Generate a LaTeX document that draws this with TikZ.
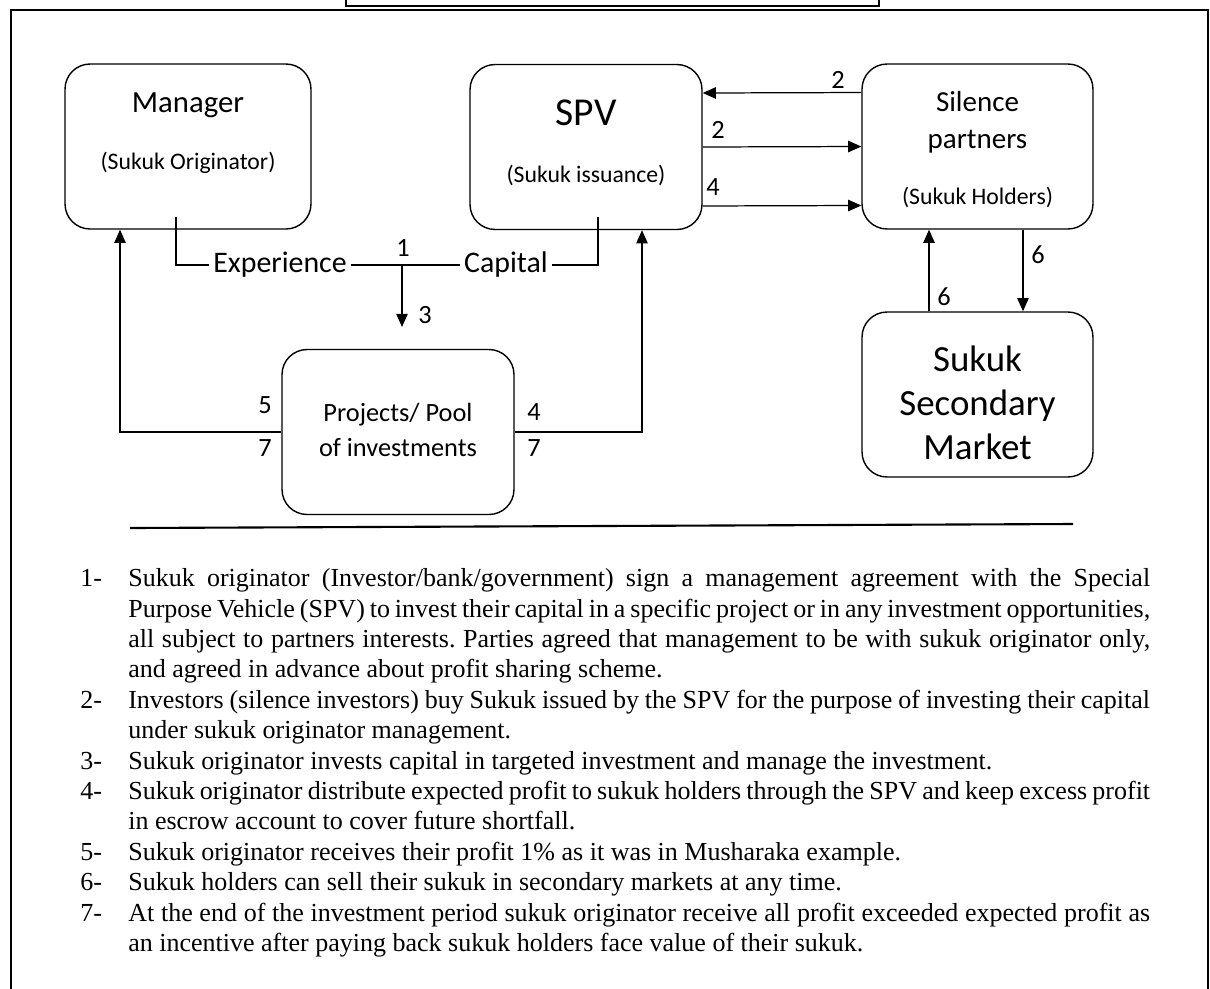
\documentclass[tikz,border=0pt]{standalone}
\usepackage{fontspec}
\setmainfont{Carlito}
\newfontfamily\listfont{Liberation Serif}
\usetikzlibrary{arrows.meta,positioning}

\tikzset{
  box/.style={rectangle,draw,rounded corners=0.5cm,line width=0.8pt,minimum width=4.64cm,minimum height=3.3cm},
  flow/.style={-{Triangle[length=7.5pt,width=6.5pt]},line width=0.7pt},
  wire/.style={line width=0.7pt},
  num/.style={font=\fontsize{15}{15}\selectfont,inner sep=0pt},
}
\newcommand{\stepitem}[2]{\par\noindent\hangindent=0.96cm\hangafter=1\makebox[0.96cm][l]{#1}#2}
\newcommand{\notesetup}{\frenchspacing\spaceskip=0.25em plus 0.5em minus 0.18em\relax\hyphenpenalty=10000\relax\tolerance=9999\relax}

\begin{document}
\begin{tikzpicture}[x=0.02cm,y=-0.02cm]
    \useasboundingbox (0,0) rectangle (1210,988);
    % frame and title box
    \draw[line width=1.6pt] (11,990) -- (11,10) -- (1208,10) -- (1208,990);
    \draw[line width=1pt] (346,-10) -- (346,6) -- (879,6) -- (879,-10);

    % boxes
    \node[box,minimum width=4.92cm] (mgr) at (188,146.5) {};
    \node[box] (spv) at (586,147) {};
    \node[box,minimum width=4.62cm] (sil) at (977.5,146.5) {};
    \node[box,minimum width=4.62cm] (mkt) at (977.5,394.5) {};
    \node[box] (pool) at (398,432) {};

    % box texts
    \node[font=\fontsize{17.5}{20}\selectfont] (mgr-t) at (188,105) {Manager};
    \node[font=\fontsize{13.5}{16}\selectfont] (mgr-s) at (188,163) {(Sukuk Originator)};
    \node[font=\fontsize{22.5}{26}\selectfont] (spv-t) at (586,113) {SPV};
    \node[font=\fontsize{13.5}{16}\selectfont] (spv-s) at (586,175) {(Sukuk issuance)};
    \node[font=\fontsize{16.5}{21}\selectfont,align=center] (sil-t) at (977.5,122) {Silence\\partners};
    \node[font=\fontsize{13.5}{16}\selectfont] (sil-s) at (977.5,197) {(Sukuk Holders)};
    \node[font=\fontsize{21}{25.2}\selectfont,align=center] (mkt-t) at (977.5,403) {Sukuk\\Secondary\\Market};
    \node[font=\fontsize{15}{19.8}\selectfont,align=center] (pool-t) at (398,430) {Projects/ Pool\\of investments};

    % agreement
    \node[font=\fontsize{17}{20}\selectfont,inner sep=2pt] (exp) at (280,265) {Experience};
    \node[font=\fontsize{17}{20}\selectfont,inner sep=2pt] (cap) at (506,265) {Capital};
    \coordinate (j1) at (402,265);
    \coordinate (j3) at (402,327);
    \draw[wire] ([xshift=-0.24cm,yshift=0.26cm]mgr.south) |- (exp.west);
    \draw[wire] (exp.east) -- (cap.west);
    \draw[wire] (cap.east) -| ([xshift=0.24cm,yshift=0.26cm]spv.south);
    \draw[flow] (j1) -- (j3);
    \node[num] (n1) at (403,248) {1};
    \node[num] (n3) at (425,315) {3};

    % profit flows
    \draw[flow] (pool.west) -| ([xshift=-1.36cm]mgr.south);
    \draw[flow] (pool.east) -| ([xshift=1.12cm]spv.south);
    \node[num] (n5) at (265,405) {5};
    \node[num] (n7a) at (265,448) {7};
    \node[num] (n4a) at (534,412) {4};
    \node[num] (n7b) at (534,448) {7};

    % sukuk flows
    \draw[flow] ([yshift=1.08cm]sil.west) -- ([yshift=1.08cm]spv.east);
    \draw[flow] (spv.east) -- (sil.west);
    \draw[flow] ([yshift=-1.18cm]spv.east) -- ([yshift=-1.18cm]sil.west);
    \node[num] (n2a) at (838,80) {2};
    \node[num] (n2b) at (718,130) {2};
    \node[num] (n4b) at (713,187) {4};

    % secondary market
    \draw[flow] ([xshift=0.91cm]sil.south) -- ([xshift=0.91cm]mkt.north);
    \draw[flow] ([xshift=-0.97cm]mkt.north) -- ([xshift=-0.97cm]sil.south);
    \node[num] (n6a) at (1038,255) {6};
    \node[num] (n6b) at (944,297) {6};

    \draw[line width=1.2pt] (130,528) -- (1073,524);

    % notes
    \node[anchor=north west,inner sep=0pt,text width=21.4cm,align=justify,font=\listfont\fontsize{14.8}{17.3}\selectfont] (notes) at (80,556) {\notesetup
      \stepitem{1-}{Sukuk originator (Investor/bank/government) sign a management agreement with the Special\linebreak
        Purpose Vehicle (SPV) to invest their capital in a specific project or in any investment opportunities,\linebreak
        all subject to partners interests. Parties agreed that management to be with sukuk originator only,\linebreak
        and agreed in advance about profit sharing scheme.}
      \stepitem{2-}{Investors (silence investors) buy Sukuk issued by the SPV for the purpose of investing their capital\linebreak
        under sukuk originator management.}
      \stepitem{3-}{Sukuk originator invests capital in targeted investment and manage the investment.}
      \stepitem{4-}{Sukuk originator distribute expected profit to sukuk holders through the SPV and keep excess profit\linebreak
        in escrow account to cover future shortfall.}
      \stepitem{5-}{Sukuk originator receives their profit 1\% as it was in Musharaka example.}
      \stepitem{6-}{Sukuk holders can sell their sukuk in secondary markets at any time.}
      \stepitem{7-}{At the end of the investment period sukuk originator receive all profit exceeded expected profit as\linebreak
        an incentive after paying back sukuk holders face value of their sukuk.}\par};
\end{tikzpicture}
\end{document}
